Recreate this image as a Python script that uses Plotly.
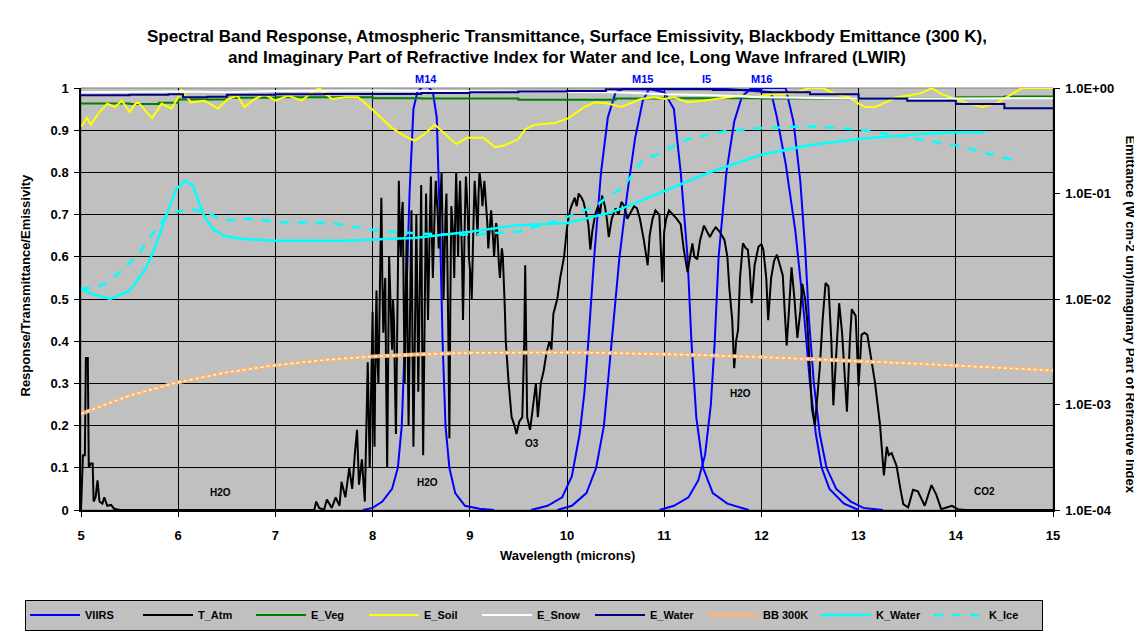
import plotly.graph_objects as go

# ---------------- DATA ----------------
TITLE_1 = "Spectral Band Response, Atmospheric Transmittance, Surface Emissivity, Blackbody Emittance (300 K),"
TITLE_2 = "and Imaginary Part of Refractive Index for Water and Ice, Long Wave Infrared (LWIR)"

X_TICKS = [5, 6, 7, 8, 9, 10, 11, 12, 13, 14, 15]
Y_TICKS = [0, 0.1, 0.2, 0.3, 0.4, 0.5, 0.6, 0.7, 0.8, 0.9, 1]
Y_TICK_TEXT = ["0", "0.1", "0.2", "0.3", "0.4", "0.5", "0.6", "0.7", "0.8", "0.9", "1"]
Y2_TICKS = [1e-4, 1e-3, 1e-2, 1e-1, 1e0]
Y2_TICK_TEXT = ["1.0E-04", "1.0E-03", "1.0E-02", "1.0E-01", "1.0E+00"]

# VIIRS band responses (wavelength um, response)
M14 = [(7.90, 0), (8.00, .005), (8.10, .02), (8.20, .05), (8.26, .10), (8.30, .20), (8.34, .45),
       (8.38, .75), (8.42, .95), (8.46, .99), (8.50, 1.0), (8.55, 1.01), (8.62, .99), (8.66, .93),
       (8.69, .70), (8.72, .40), (8.75, .20), (8.79, .10), (8.85, .04), (8.95, .01), (9.10, .003),
       (9.25, 0)]
M15 = [(9.63, 0), (9.80, .01), (9.95, .03), (10.05, .08), (10.13, .18), (10.18, .28), (10.22, .40),
       (10.28, .60), (10.35, .80), (10.42, .93), (10.50, .99), (10.60, 1.0), (10.80, 1.0), (11.00, .99),
       (11.10, .95), (11.17, .80), (11.24, .60), (11.28, .40), (11.33, .22), (11.40, .10), (11.50, .04),
       (11.65, .015), (11.87, 0)]
I5 = [(9.90, 0), (10.05, .01), (10.20, .04), (10.30, .10), (10.38, .20), (10.46, .40), (10.54, .60),
      (10.62, .75), (10.70, .88), (10.78, .97), (10.85, 1.0), (11.50, 1.0), (12.10, .99), (12.16, .93),
      (12.25, .82), (12.35, .66), (12.44, .46), (12.50, .30), (12.56, .18), (12.62, .10), (12.70, .05),
      (12.85, .015), (13.00, 0)]
M16 = [(10.95, 0), (11.10, .01), (11.25, .03), (11.35, .07), (11.42, .13), (11.48, .25), (11.52, .40),
       (11.56, .60), (11.64, .80), (11.72, .92), (11.80, .98), (11.90, 1.0), (12.25, 1.0), (12.33, .92),
       (12.40, .78), (12.45, .62), (12.49, .45), (12.54, .30), (12.60, .18), (12.67, .10), (12.77, .05),
       (12.92, .02), (13.05, .005), (13.25, 0)]
BAND_LABELS = ["M14", "M15", "I5", "M16"]
BAND_LABEL_X = [8.55, 10.78, 11.43, 12.0]

# Atmospheric transmittance
T_ATM = [(5.00, 0.0), (5.02, .13), (5.04, .13), (5.05, .36), (5.07, .36), (5.08, .10), (5.10, .11),
         (5.12, .11), (5.13, .02), (5.15, .03), (5.17, .07), (5.19, .02), (5.22, .015), (5.24, .03),
         (5.27, .01), (5.31, .012), (5.34, .003), (5.40, 0.0),
         (7.40, 0.0), (7.42, .02), (7.45, .005), (7.50, 0.0), (7.53, .025), (7.58, .005), (7.62, .03),
         (7.66, .01), (7.68, .067), (7.72, .03), (7.76, .10), (7.79, .05), (7.82, .14), (7.84, .19),
         (7.86, .06), (7.89, .12), (7.92, .02), (7.95, .35), (7.97, .10),
         (8.00, .47), (8.01, .25), (8.02, .15), (8.03, .40), (8.04, .52), (8.05, .35), (8.06, .30),
         (8.08, .60), (8.09, .74), (8.10, .55), (8.11, .42), (8.12, .50), (8.13, .55), (8.14, .30),
         (8.15, .10), (8.16, .35), (8.17, .60), (8.19, .45), (8.20, .38), (8.21, .50), (8.22, .45),
         (8.23, .30), (8.24, .18), (8.26, .55), (8.27, .78), (8.28, .65), (8.29, .60), (8.30, .70),
         (8.31, .73), (8.32, .50), (8.33, .30), (8.34, .50), (8.35, .65), (8.36, .40), (8.37, .20),
         (8.39, .55), (8.40, .71), (8.41, .40), (8.42, .15), (8.44, .50), (8.45, .70), (8.46, .50),
         (8.47, .28), (8.49, .60), (8.50, .77), (8.51, .40), (8.52, .13), (8.54, .55), (8.55, .75),
         (8.56, .60), (8.57, .45), (8.59, .70), (8.60, .79), (8.61, .65), (8.62, .55), (8.64, .72),
         (8.65, .78), (8.67, .70), (8.68, .62), (8.70, .75), (8.71, .80), (8.72, .65), (8.73, .50),
         (8.75, .70), (8.76, .75), (8.78, .40), (8.79, .17), (8.80, .50), (8.81, .72), (8.83, .65),
         (8.84, .55), (8.85, .70), (8.86, .80), (8.87, .70), (8.88, .60), (8.89, .72), (8.90, .78),
         (8.92, .60), (8.93, .45), (8.95, .70), (8.96, .79), (8.98, .70), (8.99, .60), (9.01, .55),
         (9.02, .50), (9.04, .70), (9.05, .78), (9.07, .70), (9.08, .65), (9.09, .75), (9.10, .80),
         (9.12, .76), (9.13, .72), (9.15, .78), (9.16, .75), (9.18, .68), (9.19, .62), (9.21, .70),
         (9.22, .71), (9.24, .64), (9.25, .60), (9.27, .68), (9.28, .67), (9.30, .58), (9.31, .55),
         (9.33, .62), (9.34, .60), (9.36, .48), (9.37, .40), (9.40, .30),
         (9.43, .22), (9.46, .20), (9.48, .18), (9.51, .21), (9.54, .22), (9.56, .40), (9.57, .58),
         (9.58, .40), (9.59, .22), (9.62, .19), (9.65, .25), (9.68, .30), (9.70, .22), (9.73, .30),
         (9.76, .33), (9.79, .374), (9.82, .40), (9.84, .38), (9.86, .465), (9.90, .50), (9.93, .55),
         (9.97, .60), (10.00, .67), (10.03, .71), (10.05, .723), (10.08, .74), (10.10, .72),
         (10.12, .75), (10.15, .74), (10.17, .73), (10.20, .70), (10.22, .677), (10.24, .617),
         (10.26, .66), (10.29, .70), (10.32, .72), (10.34, .70), (10.36, .745), (10.39, .72),
         (10.41, .69), (10.43, .647), (10.46, .69), (10.50, .715), (10.53, .70), (10.56, .73),
         (10.59, .72), (10.62, .69), (10.66, .708), (10.69, .72), (10.72, .715), (10.75, .69),
         (10.79, .64), (10.83, .58), (10.85, .65), (10.88, .69), (10.91, .71), (10.95, .70),
         (10.98, .54), (11.00, .66), (11.02, .69), (11.05, .71), (11.09, .70), (11.13, .69),
         (11.17, .677), (11.20, .62), (11.24, .564), (11.27, .60), (11.29, .632), (11.31, .60),
         (11.34, .594), (11.37, .64), (11.41, .674), (11.44, .66), (11.47, .647), (11.50, .66),
         (11.53, .67), (11.57, .66), (11.62, .64), (11.65, .60), (11.67, .526), (11.70, .45),
         (11.72, .336), (11.74, .40), (11.76, .427), (11.78, .55), (11.81, .632), (11.84, .62),
         (11.86, .617), (11.88, .57), (11.90, .49), (11.93, .58), (11.97, .624), (12.00, .63),
         (12.02, .617), (12.05, .55), (12.07, .45), (12.10, .55), (12.13, .59), (12.16, .605),
         (12.19, .58), (12.22, .556), (12.24, .47), (12.26, .39), (12.28, .46), (12.31, .575),
         (12.34, .50), (12.37, .408), (12.40, .47), (12.42, .536), (12.45, .50), (12.47, .453),
         (12.50, .33), (12.52, .24), (12.55, .20), (12.58, .28), (12.60, .336), (12.63, .45),
         (12.66, .538), (12.69, .53), (12.72, .40), (12.74, .248), (12.77, .38), (12.80, .49),
         (12.83, .42), (12.85, .34), (12.88, .233), (12.91, .40), (12.93, .476), (12.97, .46),
         (13.00, .294), (13.03, .415), (13.06, .42), (13.09, .415), (13.13, .36), (13.17, .30),
         (13.22, .203), (13.26, .082), (13.29, .15), (13.31, .13), (13.34, .135), (13.39, .105),
         (13.43, .05), (13.46, .014), (13.51, .006), (13.56, .048), (13.61, .044), (13.68, .01),
         (13.75, .059), (13.80, .036), (13.85, .002), (13.96, .01), (14.02, .002), (14.10, 0.0),
         (15.00, 0.0)]

# Surface emissivities
E_VEG = [(5.0, .963), (5.5, .962), (5.8, .965), (6.0, .973), (6.5, .977), (7.0, .978), (7.5, .978),
         (8.0, .976), (8.5, .975), (9.0, .975), (9.5, .972), (10.0, .972), (10.5, .975), (11.0, .976),
         (11.5, .976), (12.0, .975), (12.5, .975), (13.0, .974), (13.5, .976), (14.0, .978),
         (14.5, .980), (15.0, .981)]
E_SOIL = [(5.00, .908), (5.06, .93), (5.10, .913), (5.18, .94), (5.27, .963), (5.35, .955), (5.42, .97),
          (5.50, .943), (5.56, .963), (5.59, .966), (5.73, .928), (5.83, .963), (5.93, .951),
          (6.00, .978), (6.03, .997), (6.13, .966), (6.27, .97), (6.41, .951), (6.51, .974),
          (6.61, .982), (6.68, .955), (6.79, .974), (6.89, .985), (7.00, .970), (7.13, .982),
          (7.27, .970), (7.37, .989), (7.45, 1.0), (7.58, .974), (7.72, .978), (7.85, .978),
          (7.99, .951), (8.20, .905), (8.33, .886), (8.43, .875), (8.53, .89), (8.64, .913),
          (8.75, .89), (8.86, .867), (8.97, .882), (9.14, .882), (9.26, .86), (9.35, .863),
          (9.50, .879), (9.57, .902), (9.67, .913), (9.88, .917), (10.01, .928), (10.18, .955),
          (10.29, .966), (10.42, .963), (10.56, .955), (10.76, .974), (10.90, .978), (11.00, .974),
          (11.10, .978), (11.24, .966), (11.40, .97), (11.53, .974), (11.67, .978), (11.80, .982),
          (11.94, .978), (12.08, .985), (12.22, .985), (12.35, .989), (12.49, 1.0), (12.63, 1.0),
          (12.77, .985), (12.90, .978), (13.00, .963), (13.07, .955), (13.17, .955), (13.28, .966),
          (13.38, .978), (13.52, .982), (13.66, .989), (13.75, 1.0), (13.86, .985), (14.00, .974),
          (14.13, .963), (14.27, .955), (14.41, .963), (14.55, .982), (14.68, 1.0), (15.00, 1.0)]
E_SNOW = [(5.0, .990), (6.0, .992), (6.5, .990), (7.0, .993), (8.0, .994), (9.0, .993), (10.0, .992),
          (10.5, .990), (11.0, .985), (11.5, .983), (12.0, .978), (12.5, .976), (13.0, .975),
          (14.0, .975), (15.0, .976)]
E_WATER = [(5.0, .983), (5.5, .984), (5.9, .985), (6.05, .978), (6.3, .979), (6.5, .984), (7.0, .985),
           (7.5, .986), (8.0, .986), (8.5, .988), (9.0, .990), (9.5, .992), (10.0, .993), (10.4, .997),
           (11.0, .997), (11.5, .995), (12.0, .990), (12.5, .985), (13.0, .975), (13.5, .970),
           (14.0, .962), (14.5, .952), (15.0, .950)]

# Blackbody emittance at 300 K (W cm-2 um-1), right axis
BB_300K = [(5.0, 8.17e-4), (5.5, 1.214e-3), (6.0, 1.624e-3), (6.5, 2.016e-3), (7.0, 2.357e-3),
           (7.5, 2.639e-3), (8.0, 2.852e-3), (8.5, 3.001e-3), (9.0, 3.088e-3), (9.5, 3.126e-3),
           (10.0, 3.118e-3), (10.5, 3.076e-3), (11.0, 3.006e-3), (11.5, 2.920e-3), (12.0, 2.816e-3),
           (12.5, 2.700e-3), (13.0, 2.584e-3), (13.5, 2.461e-3), (14.0, 2.339e-3), (14.5, 2.220e-3),
           (15.0, 2.100e-3)]

# Imaginary part of refractive index, right axis
K_WATER = [(5.0, .0125), (5.1, .0113), (5.3, .0100), (5.5, .0120), (5.67, .0196), (5.77, .0322),
           (5.88, .063), (5.98, .110), (6.07, .132), (6.15, .120), (6.26, .063), (6.36, .0457),
           (6.47, .0398), (6.64, .0373), (6.98, .0356), (7.74, .0356), (8.2, .0373), (8.43, .0378),
           (9.0, .0433), (9.46, .0497), (10.0, .0525), (10.42, .0649), (10.63, .0759), (11.0, .105),
           (11.46, .158), (12.0, .233), (12.49, .286), (13.0, .328), (13.52, .360), (14.0, .380),
           (14.3, .380)]
K_ICE = [(5.0, .0125), (5.17, .0129), (5.3, .0149), (5.44, .0196), (5.58, .0256), (5.71, .0387),
         (5.85, .057), (5.95, .066), (6.12, .0718), (6.3, .066), (6.47, .0555), (6.71, .0575),
         (7.05, .0535), (7.57, .0525), (7.88, .047), (8.08, .044), (8.5, .0417), (9.0, .0405),
         (9.5, .0437), (9.9, .055), (10.1, .0649), (10.3, .0773), (10.42, .0929), (10.55, .110),
         (10.64, .137), (10.78, .209), (10.9, .229), (11.0, .256), (11.25, .328), (11.63, .391),
         (12.0, .417), (12.49, .433), (13.0, .406), (13.52, .340), (14.0, .286), (14.53, .215),
         (14.6, .209)]

GAS_LABELS = ["H2O", "H2O", "O3", "H2O", "CO2"]
GAS_X = [6.44, 8.56, 9.64, 11.79, 14.3]
GAS_Y = [0.042, 0.066, 0.158, 0.277, 0.043]

# ---------------- FIGURE ----------------
W, H = 1142, 634
PL, PR, PT, PB = 73, 1045, 80, 518
PH = PB - PT
FONT = "Liberation Sans, Arial, sans-serif"
NARROW = "Liberation Sans Narrow, Arial Narrow, Liberation Sans, sans-serif"


def xs(p):
    return [a for a, _ in p]


def ys(p):
    return [b for _, b in p]


def py(pix):
    """pixel row -> paper y"""
    return (PB - pix) / PH


def px(pix):
    """pixel column -> paper x"""
    return (pix - PL) / (PR - PL)


fig = go.Figure()

for i, band in enumerate([M14, M15, I5, M16]):
    fig.add_trace(go.Scatter(x=xs(band), y=ys(band), mode="lines", name="VIIRS",
                             legendgroup="viirs", showlegend=(i == 0),
                             line=dict(color="#0000FF", width=2)))

fig.add_trace(go.Scatter(x=xs(T_ATM), y=ys(T_ATM), mode="lines", name="T_Atm",
                         line=dict(color="#000000", width=2)))
fig.add_trace(go.Scatter(x=xs(E_VEG), y=ys(E_VEG), mode="lines", name="E_Veg",
                         line=dict(color="#008000", width=2, shape="hv")))
fig.add_trace(go.Scatter(x=xs(E_SOIL), y=ys(E_SOIL), mode="lines", name="E_Soil",
                         line=dict(color="#FFFF00", width=2)))
fig.add_trace(go.Scatter(x=xs(E_SNOW), y=ys(E_SNOW), mode="lines", name="E_Snow",
                         line=dict(color="#FFFFFF", width=2)))
fig.add_trace(go.Scatter(x=xs(E_WATER), y=ys(E_WATER), mode="lines", name="E_Water",
                         line=dict(color="#000080", width=2, shape="hv")))

fig.add_trace(go.Scatter(x=xs(BB_300K), y=ys(BB_300K), mode="lines", name="BB 300K", yaxis="y2",
                         legendgroup="bb", line=dict(color="#F2B77A", width=4)))
fig.add_trace(go.Scatter(x=xs(BB_300K), y=ys(BB_300K), mode="lines", name="BB 300K", yaxis="y2",
                         legendgroup="bb", showlegend=False, hoverinfo="skip",
                         line=dict(color="#FFF4E8", width=1.5, dash="dot")))
fig.add_trace(go.Scatter(x=xs(K_WATER), y=ys(K_WATER), mode="lines", name="K_Water", yaxis="y2",
                         line=dict(color="#00FFFF", width=2.5)))
fig.add_trace(go.Scatter(x=xs(K_ICE), y=ys(K_ICE), mode="lines", name="K_Ice", yaxis="y2",
                         line=dict(color="#00FFFF", width=2.5, dash="dash")))

annotations = []
annotations.append(dict(text="<b>" + TITLE_1 + "</b>", x=0.5, y=py(27), xref="paper", yref="paper",
                        xanchor="center", yanchor="middle", showarrow=False,
                        font=dict(family=NARROW, size=17, color="black")))
annotations.append(dict(text="<b>" + TITLE_2 + "</b>", x=0.5, y=py(48), xref="paper", yref="paper",
                        xanchor="center", yanchor="middle", showarrow=False,
                        font=dict(family=NARROW, size=17, color="black")))
for lab, bx in zip(BAND_LABELS, BAND_LABEL_X):
    annotations.append(dict(text="<b>" + lab + "</b>", x=bx, y=py(PT - 1), xref="x", yref="paper",
                            xanchor="center", yanchor="bottom", showarrow=False,
                            font=dict(family=FONT, size=11, color="#0000FF")))
for lab, gx, gy in zip(GAS_LABELS, GAS_X, GAS_Y):
    annotations.append(dict(text="<b>" + lab + "</b>", x=gx, y=gy, xref="x", yref="y",
                            xanchor="center", yanchor="middle",
                            showarrow=False, font=dict(family=NARROW, size=10, color="black")))
annotations.append(dict(text="<b>Wavelength (microns)</b>", x=0.5, y=py(PB + 47),
                        xref="paper", yref="paper", xanchor="center", yanchor="middle",
                        showarrow=False, font=dict(family=FONT, size=13, color="black")))
annotations.append(dict(text="<b>Response/Transmittance/Emissivity</b>", x=px(18),
                        y=py(285), xref="paper", yref="paper", xanchor="center", yanchor="middle",
                        showarrow=False, textangle=-90,
                        font=dict(family=FONT, size=13, color="black")))
annotations.append(dict(text="<b>Emittance (W cm-2 um)/Imaginary Part of Refractive Index</b>",
                        x=px(1123), y=py(315), xref="paper", yref="paper",
                        xanchor="center", yanchor="middle", showarrow=False, textangle=90,
                        font=dict(family=FONT, size=13, color="black")))

fig.update_layout(
    width=W, height=H,
    margin=dict(l=PL, r=W - PR, t=PT, b=H - PB, pad=0),
    paper_bgcolor="white", plot_bgcolor="#C0C0C0",
    showlegend=True,
    legend=dict(orientation="h", x=px(17), xanchor="left",
                y=py(611), yanchor="top",
                bgcolor="#C0C0C0", bordercolor="black", borderwidth=1,
                font=dict(family=NARROW, size=11, color="black", weight="bold"),
                itemwidth=50, entrywidth=48, entrywidthmode="pixels", tracegroupgap=0),
    xaxis=dict(range=[5, 15], tickvals=X_TICKS, ticktext=[str(v) for v in X_TICKS],
               showgrid=True, gridcolor="#000000", gridwidth=1, zeroline=False,
               showline=True, linecolor="black", linewidth=1.5, ticks="outside", ticklen=5,
               tickcolor="black", ticklabelstandoff=8,
               tickfont=dict(family=FONT, size=13, color="black", weight="bold")),
    yaxis=dict(range=[0, 1], tickvals=Y_TICKS, ticktext=Y_TICK_TEXT,
               showgrid=True, gridcolor="#000000", gridwidth=1, zeroline=False,
               showline=True, linecolor="black", linewidth=1.5, ticks="outside", ticklen=5,
               tickcolor="black", ticklabelstandoff=3,
               tickfont=dict(family=FONT, size=13, color="black", weight="bold")),
    yaxis2=dict(type="log", range=[-4, 0], overlaying="y", side="right",
                tickvals=Y2_TICKS, ticktext=Y2_TICK_TEXT, showgrid=False, zeroline=False,
                showline=True, linecolor="black", linewidth=1.5, ticks="outside", ticklen=5,
                tickcolor="black", ticklabelstandoff=3,
                tickfont=dict(family=FONT, size=13, color="black", weight="bold")),
    annotations=annotations,
)

fig.add_shape(type="rect", xref="paper", yref="paper", x0=0, x1=1, y0=0, y1=1,
              line=dict(color="#808080", width=1), layer="below")

fig.write_html("out.html")
